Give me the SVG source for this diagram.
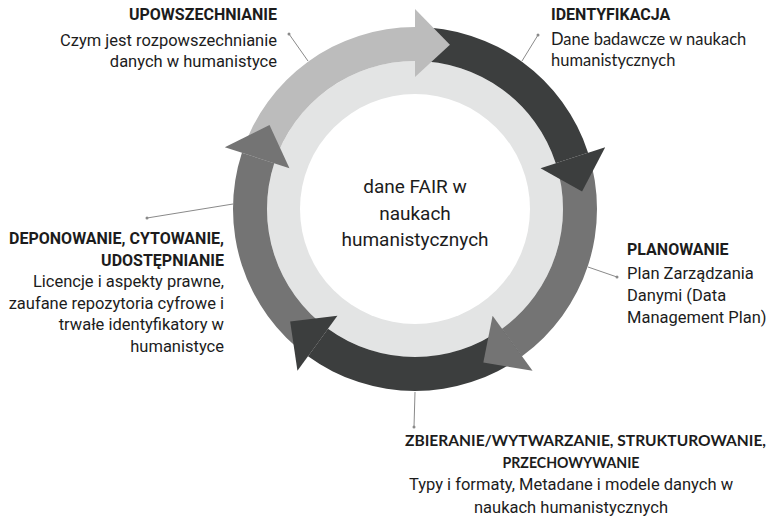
<svg xmlns="http://www.w3.org/2000/svg" width="770" height="518" viewBox="0 0 770 518">
<style>
.t{font-family:Roboto,"Liberation Sans",sans-serif;font-size:16.5px;fill:#1c1c1c}
.b{font-weight:bold;font-size:16px}
.c{font-family:Lato,"Liberation Sans",sans-serif}
.z{font-family:Lato,"Liberation Sans",sans-serif;font-weight:bold;font-size:15px}
.big{font-size:19px}
.lead{stroke:#8a8a8a;stroke-width:1;fill:none}
.dot{fill:#8a8a8a}
.light{fill:#bcbcbc}
.dark{fill:#3c3e3e}
.mid{fill:#747474}
</style>
<rect width="770" height="518" fill="#ffffff"/>
<g id="ring">
<circle cx="415" cy="209" r="148" fill="#e3e4e4"/>
<circle cx="415" cy="209" r="115" fill="#ffffff"/>
</g>
<g id="arrows">
<path class="light" d="M241.91,152.76 A182,182 0 0 1 415,27 L415,61 A148,148 0 0 0 274.24,163.27 Z"/>
<path class="dark" d="M415,27 A182,182 0 0 1 588.09,152.76 L555.76,163.27 A148,148 0 0 0 415,61 Z"/>
<path class="mid" d="M588.09,152.76 A182,182 0 0 1 521.98,356.24 L501.99,328.74 A148,148 0 0 0 555.76,163.27 Z"/>
<path class="dark" d="M521.98,356.24 A182,182 0 0 1 308.02,356.24 L328.01,328.74 A148,148 0 0 0 501.99,328.74 Z"/>
<path class="mid" d="M308.02,356.24 A182,182 0 0 1 241.91,152.76 L274.24,163.27 A148,148 0 0 0 328.01,328.74 Z"/>
<polygon class="light" points="415,9 449.93,44.67 415,77"/>
<polygon class="dark" points="605.21,147.2 582.08,191.44 540.54,168.21"/>
<polygon class="mid" points="532.56,370.8 483.33,362.48 492.59,315.79"/>
<polygon class="dark" points="297.44,370.8 290.15,321.41 337.41,315.79"/>
<polygon class="mid" points="224.79,147.2 269.51,125 289.46,168.21"/>
</g>
<g id="connectors">
<line class="lead" x1="308" y1="61" x2="289" y2="34"/>
<circle class="dot" cx="289" cy="34" r="1.5"/>
<line class="lead" x1="522" y1="61" x2="538" y2="35" stroke="#555"/>
<circle class="dot" cx="538" cy="35" r="1.5"/>
<line class="lead" x1="233" y1="204" x2="147" y2="218"/>
<circle class="dot" cx="147" cy="218" r="1.5"/>
<line class="lead" x1="588" y1="267" x2="617" y2="277"/>
<circle class="dot" cx="617" cy="277" r="1.5"/>
<line class="lead" x1="415" y1="392" x2="414" y2="427" stroke="#555"/>
<circle class="dot" cx="414" cy="427" r="1.5"/>
</g>
<g id="center">
<text class="t big" x="415" y="193" text-anchor="middle">dane FAIR w</text>
<text class="t big" x="415" y="219.5" text-anchor="middle">naukach</text>
<text class="t big" x="415" y="246" text-anchor="middle">humanistycznych</text>
</g>
<g id="upowszechnianie">
<text class="t b" x="277" y="20" text-anchor="end">UPOWSZECHNIANIE</text>
<text class="t" x="277" y="46" text-anchor="end">Czym jest rozpowszechnianie</text>
<text class="t" x="277" y="67" text-anchor="end">danych w humanistyce</text>
</g>
<g id="identyfikacja">
<text class="t b" x="551" y="20">IDENTYFIKACJA</text>
<text class="t c" x="551" y="45">Dane badawcze w naukach</text>
<text class="t c" x="551" y="66">humanistycznych</text>
</g>
<g id="planowanie">
<text class="t b" x="627" y="255">PLANOWANIE</text>
<text class="t" x="627" y="279">Plan Zarządzania</text>
<text class="t" x="627" y="301">Danymi (Data</text>
<text class="t" x="627" y="323">Management Plan)</text>
</g>
<g id="zbieranie">
<text class="t z" x="405" y="446" textLength="361" lengthAdjust="spacingAndGlyphs">ZBIERANIE/WYTWARZANIE, STRUKTUROWANIE,</text>
<text class="t z" x="571" y="468" text-anchor="middle" textLength="137" lengthAdjust="spacingAndGlyphs">PRZECHOWYWANIE</text>
<text class="t" x="571" y="490" text-anchor="middle">Typy i formaty, Metadane i modele danych w</text>
<text class="t" x="571" y="513" text-anchor="middle">naukach humanistycznych</text>
</g>
<g id="deponowanie">
<text class="t b" x="224" y="244" text-anchor="end">DEPONOWANIE, CYTOWANIE,</text>
<text class="t b" x="224" y="265.5" text-anchor="end">UDOSTĘPNIANIE</text>
<text class="t" x="224" y="287" text-anchor="end">Licencje i aspekty prawne,</text>
<text class="t" x="224" y="308.5" text-anchor="end">zaufane repozytoria cyfrowe i</text>
<text class="t" x="224" y="330" text-anchor="end">trwałe identyfikatory w</text>
<text class="t" x="224" y="351.5" text-anchor="end">humanistyce</text>
</g>
</svg>
